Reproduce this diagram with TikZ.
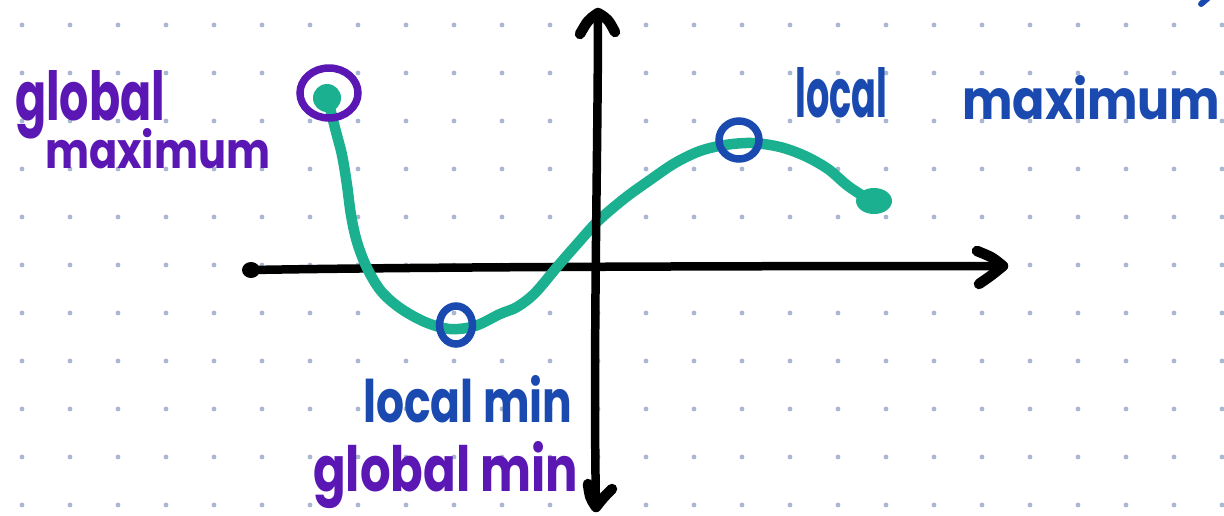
\documentclass[tikz,border=0pt]{standalone}
\usepackage{fontspec}
\setmainfont{Poppins}
\usepackage{graphicx}
\usetikzlibrary{shapes.geometric}
\definecolor{grn}{HTML}{1BB08F}
\definecolor{pur}{HTML}{5A17B4}
\definecolor{blu}{HTML}{1A4AB0}
\definecolor{dotc}{HTML}{A8B8D2}
\begin{document}
\begin{tikzpicture}[x=1pt,y=-1pt,
  axis/.style={line width=8.5pt, line cap=round, line join=round, draw=black},
  arrowarm/.style={line width=10.5pt, line cap=round, line join=round, draw=black},
  curve/.style={draw=grn, line width=10.5pt, line cap=round, line join=round},
  ring/.style={ellipse, draw, line width=7.5pt, inner sep=0pt, outer sep=0pt},
  lbl/.style={inner sep=0pt, anchor=base west, font=\bfseries}]
\useasboundingbox (0,0) rectangle (1224,515);
% dot grid
\foreach \i in {0,...,25} \foreach \j in {0,...,10}
  \fill[dotc] (22+48*\i, 25+48*\j) circle[radius=2.4pt];
% horizontal axis
\coordinate (hl) at (251,270);
\coordinate (hr) at (1003,266);
\draw[axis] (hl) .. controls (420,267) and (700,266) .. (hr);
\fill (hl) ellipse[x radius=9pt, y radius=8pt];
\coordinate (ha1) at (977,251);
\coordinate (ha2) at (979,284);
\draw[arrowarm] (ha1) .. controls (992,257) .. (hr) .. controls (992,275) .. (ha2);
% green curve
\draw[curve] plot[smooth, tension=0.55] coordinates {
  (328,100) (335,128) (342,155) (347,185) (351,215) (357,242) (367,268)
  (381,291) (400,308) (425,322) (450,329) (475,326) (500,314) (517,307)
  (535,293) (557,267) (578,243) (598,221) (625,198) (650,180) (675,163)
  (700,151) (725,145) (752,143) (780,147) (805,156) (828,169) (848,186) (868,199)};
\fill[grn] (327,98) circle[radius=14pt];
\fill[grn] (874,201) ellipse[x radius=18pt, y radius=13pt];
% vertical axis
\coordinate (vt) at (598,13);
\coordinate (vb) at (596,507);
\draw[axis] (vt) .. controls (598,150) and (593,350) .. (vb);
\coordinate (va1) at (580,34);
\coordinate (va2) at (615,32);
\draw[arrowarm] (va1) .. controls (588,20) .. (vt) .. controls (608,19) .. (va2);
\coordinate (vb1) at (588,484);
\coordinate (vb2) at (612,489);
\draw[arrowarm] (vb1) .. controls (590,498) .. (vb) .. controls (603,498) .. (vb2);
% rings
\node[ring, draw=pur, minimum width=58pt, minimum height=50pt] (gmax) at (329,93) {};
\node[ring, draw=blu, minimum width=33pt, minimum height=38pt] (lmin) at (456,325) {};
\node[ring, draw=blu, minimum width=40pt, minimum height=38pt] (lmax) at (739,140) {};
% labels
\node[lbl, text=pur] (gm1) at (15,120) {\resizebox{150pt}{50pt}{global}};
\node[lbl, text=pur] (gm2) at (45,168) {\resizebox{225pt}{40pt}{maximum}};
\node[lbl, text=blu] (lm1) at (795,117) {\resizebox{92pt}{50pt}{local}};
\node[lbl, text=blu] (lm2) at (962,119) {\resizebox{258pt}{44pt}{maximum}};
\node[lbl, text=blu] (lmn) at (363,422) {\resizebox{209pt}{47pt}{local min}};
\node[lbl, text=pur] (gmn) at (313,491) {\resizebox{265pt}{50pt}{global min}};
% stray stroke at top right
\coordinate (s1) at (1201,4);
\coordinate (s2) at (1208,-2);
\draw[draw=blu, line width=6pt, line cap=round] (s1) -- (s2);
\end{tikzpicture}
\end{document}
